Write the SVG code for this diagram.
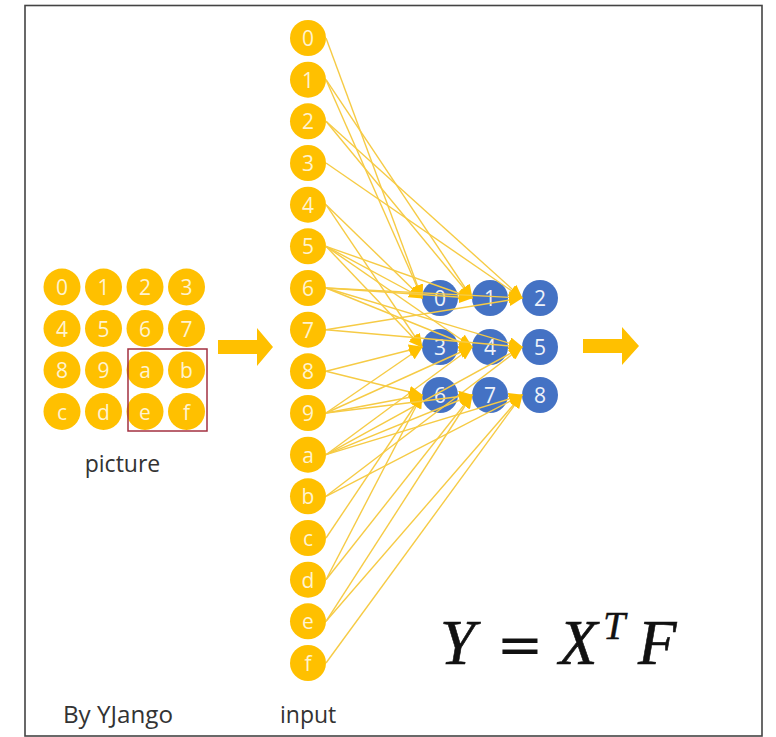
<svg xmlns="http://www.w3.org/2000/svg" width="776" height="737" viewBox="0 0 776 737">
<defs>
<marker id="ah" markerUnits="userSpaceOnUse" markerWidth="14" markerHeight="12" refX="13" refY="6" orient="auto" viewBox="0 0 14 12">
<path d="M0,0 L14,6 L0,12 z" fill="#FFC000"/>
</marker>
</defs>
<style>
.y{fill:#FFC000}
.b{fill:#4472C4}
.t{font-family:"Open Sans","Noto Sans","DejaVu Sans",sans-serif;font-size:21px;text-anchor:middle}
.ty{fill:#FFF3D0}
.tb{fill:#EEF2FA}
.lbl{font-family:"Open Sans","Noto Sans","DejaVu Sans",sans-serif;font-size:23px;fill:#333}
.c line{stroke:#F6CB45;stroke-width:1.4;marker-end:url(#ah)}
.m{font-family:"Liberation Serif","Times New Roman",serif;font-style:italic;fill:#111}
</style>
<rect x="0" y="0" width="776" height="737" fill="#fff"/>
<rect x="25" y="5.5" width="737" height="730.5" fill="none" stroke="#444" stroke-width="1.6"/>

<g id="picture">
<g id="p0"><circle class="y" cx="62" cy="287" r="18.5"/><text class="t ty" x="62" y="295">0</text></g>
<g id="p1"><circle class="y" cx="103.5" cy="287" r="18.5"/><text class="t ty" x="103.5" y="295">1</text></g>
<g id="p2"><circle class="y" cx="145" cy="287" r="18.5"/><text class="t ty" x="145" y="295">2</text></g>
<g id="p3"><circle class="y" cx="186.5" cy="287" r="18.5"/><text class="t ty" x="186.5" y="295">3</text></g>
<g id="p4"><circle class="y" cx="62" cy="328.5" r="18.5"/><text class="t ty" x="62" y="336.5">4</text></g>
<g id="p5"><circle class="y" cx="103.5" cy="328.5" r="18.5"/><text class="t ty" x="103.5" y="336.5">5</text></g>
<g id="p6"><circle class="y" cx="145" cy="328.5" r="18.5"/><text class="t ty" x="145" y="336.5">6</text></g>
<g id="p7"><circle class="y" cx="186.5" cy="328.5" r="18.5"/><text class="t ty" x="186.5" y="336.5">7</text></g>
<g id="p8"><circle class="y" cx="62" cy="370" r="18.5"/><text class="t ty" x="62" y="378">8</text></g>
<g id="p9"><circle class="y" cx="103.5" cy="370" r="18.5"/><text class="t ty" x="103.5" y="378">9</text></g>
<g id="pa"><circle class="y" cx="145" cy="370" r="18.5"/><text class="t ty" x="145" y="378">a</text></g>
<g id="pb"><circle class="y" cx="186.5" cy="370" r="18.5"/><text class="t ty" x="186.5" y="378">b</text></g>
<g id="pc"><circle class="y" cx="62" cy="411.5" r="18.5"/><text class="t ty" x="62" y="419.5">c</text></g>
<g id="pd"><circle class="y" cx="103.5" cy="411.5" r="18.5"/><text class="t ty" x="103.5" y="419.5">d</text></g>
<g id="pe"><circle class="y" cx="145" cy="411.5" r="18.5"/><text class="t ty" x="145" y="419.5">e</text></g>
<g id="pf"><circle class="y" cx="186.5" cy="411.5" r="18.5"/><text class="t ty" x="186.5" y="419.5">f</text></g>
<rect id="window" x="128" y="349" width="79" height="82" fill="none" stroke="#A33040" stroke-width="1.5"/>
<text class="lbl" x="122.5" y="472" text-anchor="middle">picture</text>
</g>

<g id="arrow1"><path d="M218,340 H257 V328 L273,347 L257,366 V354 H218 z" fill="#FFC000"/></g>
<g id="arrow2"><path d="M583,339 H622 V327 L639,346 L622,365 V353 H583 z" fill="#FFC000"/></g>

<g id="input">
<g id="i0"><circle class="y" cx="308" cy="38" r="18"/><text class="t ty" x="308" y="46">0</text></g>
<g id="i1"><circle class="y" cx="308" cy="79.7" r="18"/><text class="t ty" x="308" y="87.7">1</text></g>
<g id="i2"><circle class="y" cx="308" cy="121.3" r="18"/><text class="t ty" x="308" y="129.3">2</text></g>
<g id="i3"><circle class="y" cx="308" cy="163" r="18"/><text class="t ty" x="308" y="171">3</text></g>
<g id="i4"><circle class="y" cx="308" cy="204.7" r="18"/><text class="t ty" x="308" y="212.7">4</text></g>
<g id="i5"><circle class="y" cx="308" cy="246.3" r="18"/><text class="t ty" x="308" y="254.3">5</text></g>
<g id="i6"><circle class="y" cx="308" cy="288" r="18"/><text class="t ty" x="308" y="296">6</text></g>
<g id="i7"><circle class="y" cx="308" cy="329.7" r="18"/><text class="t ty" x="308" y="337.7">7</text></g>
<g id="i8"><circle class="y" cx="308" cy="371.3" r="18"/><text class="t ty" x="308" y="379.3">8</text></g>
<g id="i9"><circle class="y" cx="308" cy="413" r="18"/><text class="t ty" x="308" y="421">9</text></g>
<g id="ia"><circle class="y" cx="308" cy="454.7" r="18"/><text class="t ty" x="308" y="462.7">a</text></g>
<g id="ib"><circle class="y" cx="308" cy="496.3" r="18"/><text class="t ty" x="308" y="504.3">b</text></g>
<g id="ic"><circle class="y" cx="308" cy="538" r="18"/><text class="t ty" x="308" y="546">c</text></g>
<g id="id"><circle class="y" cx="308" cy="579.7" r="18"/><text class="t ty" x="308" y="587.7">d</text></g>
<g id="ie"><circle class="y" cx="308" cy="621.3" r="18"/><text class="t ty" x="308" y="629.3">e</text></g>
<g id="if"><circle class="y" cx="308" cy="663" r="18"/><text class="t ty" x="308" y="671">f</text></g>
</g>

<g id="output">
<g id="o0"><circle class="b" cx="440" cy="298" r="18"/><text class="t tb" x="440" y="306">0</text></g>
<g id="o1"><circle class="b" cx="490" cy="298" r="18"/><text class="t tb" x="490" y="306">1</text></g>
<g id="o2"><circle class="b" cx="540" cy="298" r="18"/><text class="t tb" x="540" y="306">2</text></g>
<g id="o3"><circle class="b" cx="440" cy="347" r="18"/><text class="t tb" x="440" y="355">3</text></g>
<g id="o4"><circle class="b" cx="490" cy="347" r="18"/><text class="t tb" x="490" y="355">4</text></g>
<g id="o5"><circle class="b" cx="540" cy="347" r="18"/><text class="t tb" x="540" y="355">5</text></g>
<g id="o6"><circle class="b" cx="440" cy="395" r="18"/><text class="t tb" x="440" y="403">6</text></g>
<g id="o7"><circle class="b" cx="490" cy="395" r="18"/><text class="t tb" x="490" y="403">7</text></g>
<g id="o8"><circle class="b" cx="540" cy="395" r="18"/><text class="t tb" x="540" y="403">8</text></g>
</g>

<g id="connectors" class="c">
<line x1="326" y1="38" x2="422" y2="298"/>
<line x1="326" y1="79.7" x2="422" y2="298"/>
<line x1="326" y1="204.7" x2="422" y2="298"/>
<line x1="326" y1="246.3" x2="422" y2="298"/>
<line x1="326" y1="79.7" x2="472" y2="298"/>
<line x1="326" y1="121.3" x2="472" y2="298"/>
<line x1="326" y1="246.3" x2="472" y2="298"/>
<line x1="326" y1="288" x2="472" y2="298"/>
<line x1="326" y1="121.3" x2="522" y2="298"/>
<line x1="326" y1="163" x2="522" y2="298"/>
<line x1="326" y1="288" x2="522" y2="298"/>
<line x1="326" y1="329.7" x2="522" y2="298"/>
<line x1="326" y1="204.7" x2="422" y2="347"/>
<line x1="326" y1="246.3" x2="422" y2="347"/>
<line x1="326" y1="371.3" x2="422" y2="347"/>
<line x1="326" y1="413" x2="422" y2="347"/>
<line x1="326" y1="246.3" x2="472" y2="347"/>
<line x1="326" y1="288" x2="472" y2="347"/>
<line x1="326" y1="413" x2="472" y2="347"/>
<line x1="326" y1="454.7" x2="472" y2="347"/>
<line x1="326" y1="288" x2="522" y2="347"/>
<line x1="326" y1="329.7" x2="522" y2="347"/>
<line x1="326" y1="454.7" x2="522" y2="347"/>
<line x1="326" y1="496.3" x2="522" y2="347"/>
<line x1="326" y1="371.3" x2="422" y2="395"/>
<line x1="326" y1="413" x2="422" y2="395"/>
<line x1="326" y1="538" x2="422" y2="395"/>
<line x1="326" y1="579.7" x2="422" y2="395"/>
<line x1="326" y1="413" x2="472" y2="395"/>
<line x1="326" y1="454.7" x2="472" y2="395"/>
<line x1="326" y1="579.7" x2="472" y2="395"/>
<line x1="326" y1="621.3" x2="472" y2="395"/>
<line x1="326" y1="454.7" x2="522" y2="395"/>
<line x1="326" y1="496.3" x2="522" y2="395"/>
<line x1="326" y1="621.3" x2="522" y2="395"/>
<line x1="326" y1="663" x2="522" y2="395"/>
</g>

<g id="formula">
<text class="m" x="440" y="664" font-size="63" stroke="#111" stroke-width="0.6">Y</text>
<text x="520" y="664" font-size="56" font-family="DejaVu Sans, sans-serif" text-anchor="middle" fill="#111">=</text>
<text class="m" x="559" y="664" font-size="63" stroke="#111" stroke-width="0.6">X</text>
<text class="m" x="603" y="639" font-size="40" stroke="#111" stroke-width="0.4">T</text>
<text class="m" x="638" y="664" font-size="63" stroke="#111" stroke-width="0.6">F</text>
</g>

<text class="lbl" x="63" y="723" textLength="110" lengthAdjust="spacingAndGlyphs">By YJango</text>
<text class="lbl" x="280" y="723">input</text>
</svg>
